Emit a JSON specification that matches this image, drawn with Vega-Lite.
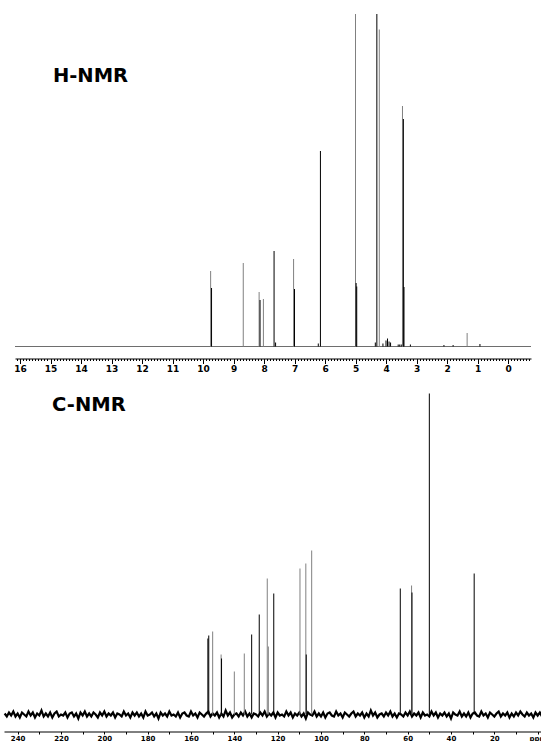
{
  "$schema": "https://vega.github.io/schema/vega-lite/v6.json",
  "padding": {"left": 0, "top": 13, "right": 0, "bottom": 0},
  "background": "white",
  "bounds": "flush",
  "center": true,
  "spacing": 46.5,
  "config": {
    "view": {"stroke": null},
    "axis": {"grid": false, "domainColor": "#000000", "tickColor": "#000000", "labelColor": "#000000", "labelFont": "DejaVu Sans", "labelFontWeight": "bold", "labelFontSize": 9, "title": null, "labelFlush": false, "labelOverlap": false}
  },
  "datasets": {
    "hpk": [
      {"p": 9.75, "v": 75.5, "c": "g"},
      {"p": 8.68, "v": 83.5, "c": "g"},
      {"p": 8.16, "v": 54.5, "c": "g"},
      {"p": 8.02, "v": 47.5, "c": "g"},
      {"p": 7.03, "v": 87.5, "c": "g"},
      {"p": 5.0, "v": 332.5, "c": "g"},
      {"p": 4.22, "v": 317, "c": "g"},
      {"p": 3.46, "v": 240.5, "c": "g"},
      {"p": 1.34, "v": 13.5, "c": "g"},
      {"p": 9.72, "v": 58.5, "c": "k"},
      {"p": 8.13, "v": 46.5, "c": "k"},
      {"p": 7.67, "v": 95.5, "c": "k"},
      {"p": 7.62, "v": 4, "c": "k"},
      {"p": 7.0, "v": 57.5, "c": "k"},
      {"p": 6.22, "v": 3, "c": "k"},
      {"p": 6.15, "v": 195.5, "c": "k"},
      {"p": 4.98, "v": 63.5, "c": "k"},
      {"p": 4.96, "v": 60, "c": "k"},
      {"p": 4.3, "v": 332.5, "c": "k"},
      {"p": 4.35, "v": 4, "c": "k"},
      {"p": 4.1, "v": 3, "c": "k"},
      {"p": 4.0, "v": 6, "c": "k"},
      {"p": 3.95, "v": 8, "c": "k"},
      {"p": 3.9, "v": 5, "c": "k"},
      {"p": 3.85, "v": 4, "c": "k"},
      {"p": 3.6, "v": 2, "c": "k"},
      {"p": 3.55, "v": 2, "c": "k"},
      {"p": 3.5, "v": 2, "c": "k"},
      {"p": 3.43, "v": 227.5, "c": "k"},
      {"p": 3.41, "v": 59.5, "c": "k"},
      {"p": 3.2, "v": 2, "c": "k"},
      {"p": 2.1, "v": 1.5, "c": "k"},
      {"p": 1.8, "v": 1.5, "c": "k"},
      {"p": 0.92, "v": 2.5, "c": "k"}
    ],
    "cpk": [
      {"p": 150.0, "v": 83, "c": "g"},
      {"p": 146.1, "v": 60, "c": "g"},
      {"p": 140.0, "v": 43, "c": "g"},
      {"p": 135.4, "v": 61, "c": "g"},
      {"p": 124.8, "v": 136, "c": "g"},
      {"p": 124.3, "v": 68, "c": "g"},
      {"p": 109.7, "v": 146, "c": "g"},
      {"p": 107.0, "v": 151, "c": "g"},
      {"p": 104.3, "v": 164, "c": "g"},
      {"p": 58.2, "v": 129, "c": "g"},
      {"p": 152.2, "v": 76, "c": "k"},
      {"p": 151.8, "v": 79, "c": "k"},
      {"p": 145.9, "v": 56, "c": "k"},
      {"p": 132.0, "v": 80, "c": "k"},
      {"p": 128.5, "v": 100, "c": "k"},
      {"p": 121.8, "v": 121, "c": "k"},
      {"p": 106.8, "v": 60, "c": "k"},
      {"p": 63.4, "v": 126, "c": "k"},
      {"p": 58.0, "v": 122, "c": "k"},
      {"p": 50.0, "v": 321, "c": "k"},
      {"p": 29.3, "v": 141, "c": "k"}
    ],
    "noise": [
      {"p":246,"n":1},{"p":245,"n":-2},{"p":244,"n":2},{"p":243,"n":-1},{"p":242,"n":3},{"p":241,"n":-2},{"p":240,"n":1},{"p":239,"n":-3},{"p":238,"n":2},{"p":237,"n":0},
      {"p":236,"n":-2},{"p":235,"n":3},{"p":234,"n":-1},{"p":233,"n":2},{"p":232,"n":-3},{"p":231,"n":1},{"p":230,"n":-1},{"p":229,"n":4},{"p":228,"n":-2},{"p":227,"n":1},
      {"p":226,"n":-2},{"p":225,"n":2},{"p":224,"n":-3},{"p":223,"n":1},{"p":222,"n":3},{"p":221,"n":-2},{"p":220,"n":0},{"p":219,"n":-1},{"p":218,"n":2},{"p":217,"n":-3},
      {"p":216,"n":1},{"p":215,"n":2},{"p":214,"n":-2},{"p":213,"n":1},{"p":212,"n":-4},{"p":211,"n":2},{"p":210,"n":-1},{"p":209,"n":3},{"p":208,"n":-2},{"p":207,"n":1},
      {"p":206,"n":-2},{"p":205,"n":2},{"p":204,"n":0},{"p":203,"n":-3},{"p":202,"n":2},{"p":201,"n":-1},{"p":200,"n":3},{"p":199,"n":-2},{"p":198,"n":1},{"p":197,"n":-1},
      {"p":196,"n":2},{"p":195,"n":-3},{"p":194,"n":1},{"p":193,"n":0},{"p":192,"n":-2},{"p":191,"n":3},{"p":190,"n":-1},{"p":189,"n":1},{"p":188,"n":-3},{"p":187,"n":2},
      {"p":186,"n":-1},{"p":185,"n":2},{"p":184,"n":-2},{"p":183,"n":1},{"p":182,"n":-3},{"p":181,"n":3},{"p":180,"n":-1},{"p":179,"n":0},{"p":178,"n":2},{"p":177,"n":-2},
      {"p":176,"n":1},{"p":175,"n":-4},{"p":174,"n":2},{"p":173,"n":-1},{"p":172,"n":1},{"p":171,"n":-2},{"p":170,"n":3},{"p":169,"n":-1},{"p":168,"n":0},{"p":167,"n":-2},
      {"p":166,"n":2},{"p":165,"n":-3},{"p":164,"n":1},{"p":163,"n":2},{"p":162,"n":-1},{"p":161,"n":-2},{"p":160,"n":3},{"p":159,"n":-1},{"p":158,"n":1},{"p":157,"n":-3},
      {"p":156,"n":2},{"p":155,"n":0},{"p":154,"n":-2},{"p":153,"n":1},{"p":152,"n":3},{"p":151,"n":-2},{"p":150,"n":1},{"p":149,"n":-1},{"p":148,"n":2},{"p":147,"n":-3},
      {"p":146,"n":1},{"p":145,"n":-2},{"p":144,"n":4},{"p":143,"n":-1},{"p":142,"n":2},{"p":141,"n":-3},{"p":140,"n":0},{"p":139,"n":1},{"p":138,"n":-2},{"p":137,"n":2},
      {"p":136,"n":-1},{"p":135,"n":3},{"p":134,"n":-2},{"p":133,"n":1},{"p":132,"n":-3},{"p":131,"n":1},{"p":130,"n":0},{"p":129,"n":-2},{"p":128,"n":2},{"p":127,"n":-1},
      {"p":126,"n":3},{"p":125,"n":-2},{"p":124,"n":1},{"p":123,"n":-1},{"p":122,"n":2},{"p":121,"n":-3},{"p":120,"n":2},{"p":119,"n":-1},{"p":118,"n":0},{"p":117,"n":-2},
      {"p":116,"n":3},{"p":115,"n":-1},{"p":114,"n":2},{"p":113,"n":-3},{"p":112,"n":1},{"p":111,"n":-1},{"p":110,"n":2},{"p":109,"n":-2},{"p":108,"n":1},{"p":107,"n":-4},
      {"p":106,"n":2},{"p":105,"n":0},{"p":104,"n":-1},{"p":103,"n":3},{"p":102,"n":-2},{"p":101,"n":1},{"p":100,"n":-2},{"p":99,"n":2},{"p":98,"n":-3},{"p":97,"n":1},
      {"p":96,"n":2},{"p":95,"n":-1},{"p":94,"n":-2},{"p":93,"n":3},{"p":92,"n":-1},{"p":91,"n":1},{"p":90,"n":-3},{"p":89,"n":2},{"p":88,"n":0},{"p":87,"n":-2},
      {"p":86,"n":1},{"p":85,"n":3},{"p":84,"n":-2},{"p":83,"n":1},{"p":82,"n":-1},{"p":81,"n":2},{"p":80,"n":-3},{"p":79,"n":1},{"p":78,"n":-2},{"p":77,"n":4},
      {"p":76,"n":-1},{"p":75,"n":2},{"p":74,"n":-3},{"p":73,"n":0},{"p":72,"n":1},{"p":71,"n":-2},{"p":70,"n":2},{"p":69,"n":-1},{"p":68,"n":3},{"p":67,"n":-2},
      {"p":66,"n":1},{"p":65,"n":-3},{"p":64,"n":1},{"p":63,"n":0},{"p":62,"n":-2},{"p":61,"n":2},{"p":60,"n":-1},{"p":59,"n":3},{"p":58,"n":-2},{"p":57,"n":1},
      {"p":56,"n":-1},{"p":55,"n":2},{"p":54,"n":-3},{"p":53,"n":2},{"p":52,"n":-1},{"p":51,"n":0},{"p":50,"n":-2},{"p":49,"n":3},{"p":48,"n":-1},{"p":47,"n":2},
      {"p":46,"n":-3},{"p":45,"n":1},{"p":44,"n":-1},{"p":43,"n":2},{"p":42,"n":-2},{"p":41,"n":1},{"p":40,"n":-4},{"p":39,"n":2},{"p":38,"n":0},{"p":37,"n":-1},
      {"p":36,"n":3},{"p":35,"n":-2},{"p":34,"n":1},{"p":33,"n":-2},{"p":32,"n":2},{"p":31,"n":-3},{"p":30,"n":1},{"p":29,"n":2},{"p":28,"n":-1},{"p":27,"n":-2},
      {"p":26,"n":3},{"p":25,"n":-1},{"p":24,"n":1},{"p":23,"n":-3},{"p":22,"n":2},{"p":21,"n":0},{"p":20,"n":-2},{"p":19,"n":1},{"p":18,"n":3},{"p":17,"n":-2},
      {"p":16,"n":1},{"p":15,"n":-1},{"p":14,"n":2},{"p":13,"n":-3},{"p":12,"n":1},{"p":11,"n":-2},{"p":10,"n":2},{"p":9,"n":-1},{"p":8,"n":3},{"p":7,"n":0},
      {"p":6,"n":-2},{"p":5,"n":2},{"p":4,"n":-1},{"p":3,"n":1},{"p":2,"n":-3},{"p":1,"n":2},{"p":0,"n":-1},{"p":-1,"n":2},{"p":-2,"n":-2}
    ]
  },
  "vconcat": [
    {
      "width": 516,
      "height": 332.5,
      "layer": [
        {
          "layer": [
            {
              "data": {"name": "hpk"},
              "mark": {"type": "rule", "color": "#6e6e6e", "strokeWidth": 1},
              "encoding": {"y": {"datum": 0, "type": "quantitative", "scale": {"domain": [0, 332.5], "nice": false}, "axis": null}}
            },
            {
              "data": {"name": "hpk"},
              "mark": {"type": "rule", "strokeWidth": 1},
              "encoding": {
                "x": {"field": "p", "type": "quantitative", "scale": {"domain": [16.164, -0.754], "nice": false, "zero": false},
                      "axis": {"orient": "bottom", "offset": 12, "values": [0,1,2,3,4,5,6,7,8,9,10,11,12,13,14,15,16], "tickCount": 17, "labelOverlap": false, "tickSize": 5, "labelPadding": 1}},
                "y": {"field": "v", "type": "quantitative", "scale": {"domain": [0, 332.5], "nice": false}, "axis": null},
                "y2": {"datum": 0},
                "color": {"field": "c", "type": "nominal", "scale": {"domain": ["g", "k"], "range": ["#808080", "#000000"]}, "legend": null}
              }
            },
            {
              "data": {"values": [{"t": "H-NMR", "p": 14.92, "v": 270.5}]},
              "mark": {"type": "text", "align": "left", "baseline": "middle", "font": "DejaVu Sans", "fontWeight": "bold", "fontSize": 19.5, "color": "#000000"},
              "encoding": {
                "x": {"field": "p", "type": "quantitative"},
                "y": {"field": "v", "type": "quantitative", "axis": null},
                "text": {"field": "t"}
              }
            }
          ]
        },
        {
          "data": {"values": [{"p": 14.92, "v": 270.5}]},
          "mark": {"type": "point", "opacity": 0},
          "encoding": {
            "x": {"field": "p", "type": "quantitative",
                  "axis": {"orient": "bottom", "offset": 12, "tickCount": 170, "labels": false, "domain": false, "tickSize": 2}},
            "y": {"field": "v", "type": "quantitative", "axis": null}
          }
        }
      ],
      "resolve": {"axis": {"x": "independent"}}
    },
    {
      "width": 538,
      "height": 321,
      "layer": [
        {
          "layer": [
            {
              "data": {"name": "noise"},
              "mark": {"type": "line", "color": "#000000", "strokeWidth": 2.2},
              "encoding": {
                "x": {"field": "p", "type": "quantitative", "scale": {"domain": [246.3, -2.0], "nice": false, "zero": false},
                      "axis": {"orient": "bottom", "offset": 17, "values": [0,20,40,60,80,100,120,140,160,180,200,220,240], "labelOverlap": false, "tickSize": 2.5, "labelPadding": 0, "labelFontSize": 7, "labelExpr": "datum.value == 0 ? 'ppm' : datum.label"}},
                "y": {"field": "n", "type": "quantitative", "scale": {"domain": [0, 321], "nice": false}, "axis": null}
              }
            },
            {
              "data": {"name": "cpk"},
              "mark": {"type": "rule", "strokeWidth": 1},
              "encoding": {
                "x": {"field": "p", "type": "quantitative"},
                "y": {"field": "v", "type": "quantitative", "axis": null},
                "y2": {"datum": 0},
                "color": {"field": "c", "type": "nominal", "scale": {"domain": ["g", "k"], "range": ["#808080", "#000000"]}, "legend": null}
              }
            },
            {
              "data": {"values": [{"t": "C-NMR", "p": 224.1, "v": 310}]},
              "mark": {"type": "text", "align": "left", "baseline": "middle", "font": "DejaVu Sans", "fontWeight": "bold", "fontSize": 19.5, "color": "#000000"},
              "encoding": {
                "x": {"field": "p", "type": "quantitative"},
                "y": {"field": "v", "type": "quantitative", "axis": null},
                "text": {"field": "t"}
              }
            }
          ]
        },
        {
          "data": {"values": [{"p": 224.1, "v": 308}]},
          "mark": {"type": "point", "opacity": 0},
          "encoding": {
            "x": {"field": "p", "type": "quantitative",
                  "axis": {"orient": "bottom", "offset": 17, "values": [10,30,50,70,90,110,130,150,170,190,210,230], "labels": false, "domain": false, "tickSize": 2.5}},
            "y": {"field": "v", "type": "quantitative", "axis": null}
          }
        }
      ],
      "resolve": {"axis": {"x": "independent"}}
    }
  ]
}
